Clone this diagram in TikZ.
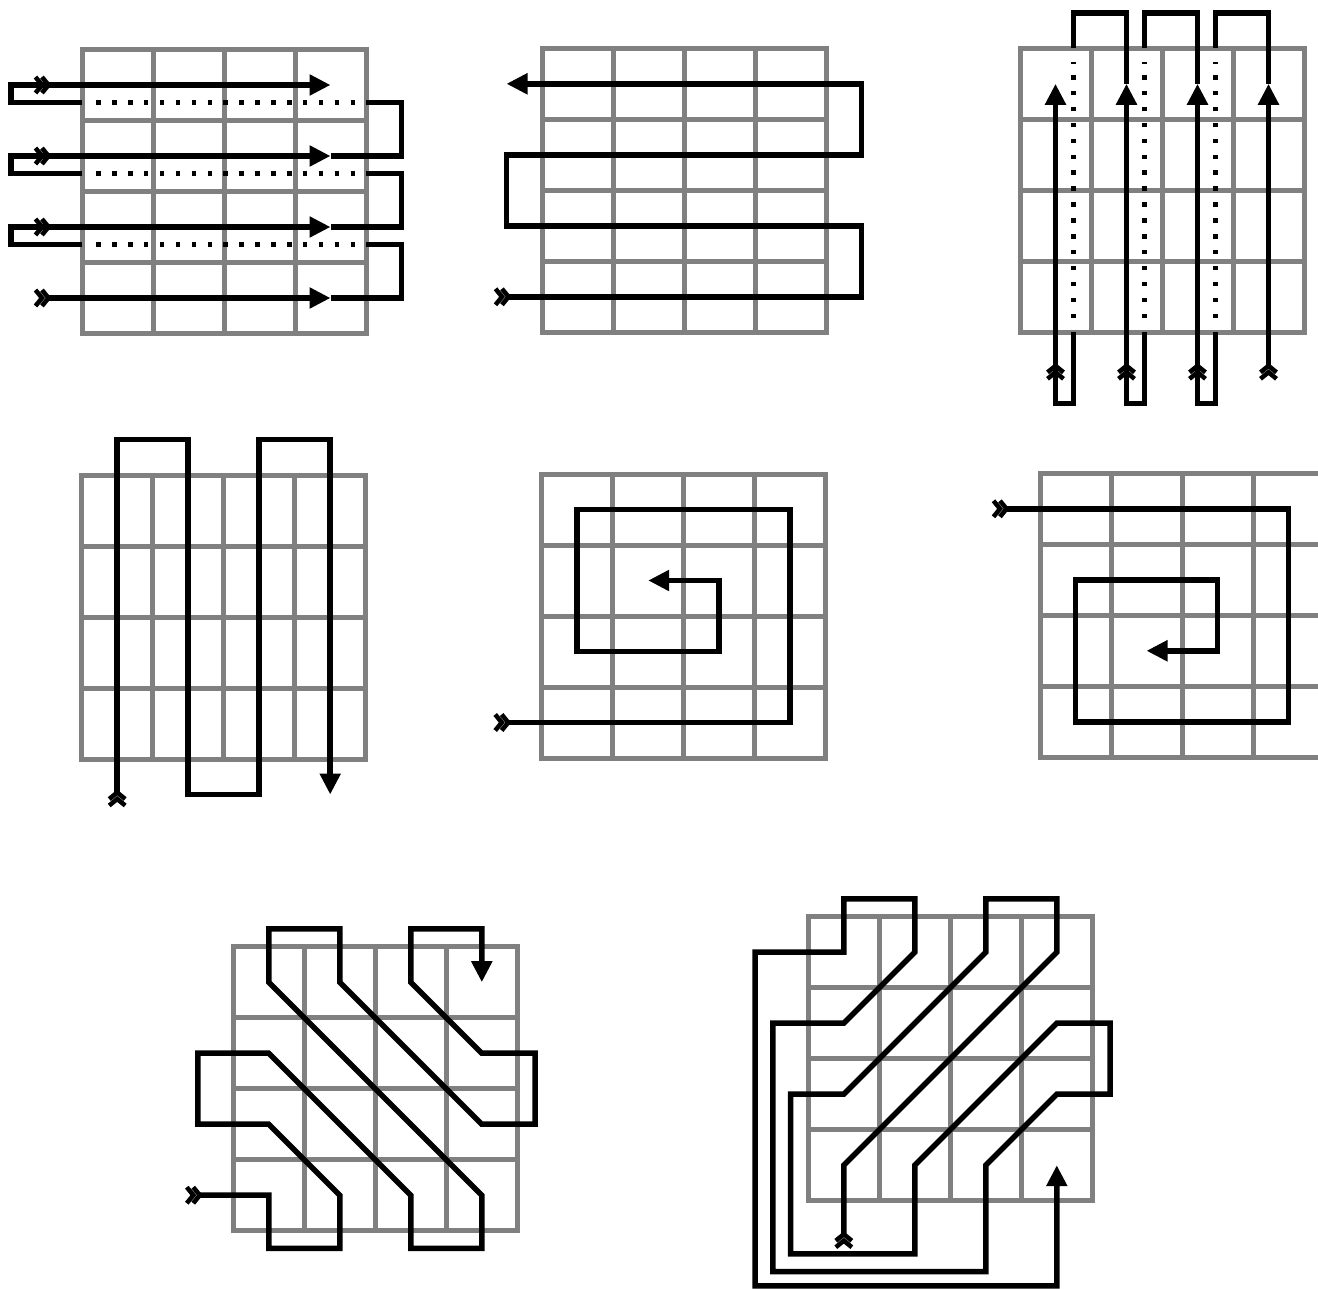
\documentclass[tikz,border=0pt]{standalone}
\usetikzlibrary{arrows.meta}
\definecolor{gridgray}{RGB}{128,128,128}
\tikzset{
  gridline/.style={draw=gridgray, line width=5pt},
  route/.style={draw=black, line width=5.5pt, line join=miter},
  dotroute/.style={draw=black, line width=4.5pt, dash pattern=on 4.5pt off 11.4pt},
  tip/.style={-{Triangle[length=21pt,width=20pt]}},
  tailmark/.pic={\draw[black, line width=4.5pt, line join=miter]
      (-11pt,8pt)--(-4.5pt,0pt)--(-11pt,-8pt)
      (-4.5pt,8pt)--(2pt,0pt)--(-4.5pt,-8pt);}
}
\newcommand\drawcellgrid{%
  \draw[gridline] (0,0) rectangle (4,4);
  \foreach \i in {1,2,3}{\draw[gridline] (\i,0) -- (\i,4); \draw[gridline] (0,\i) -- (4,\i);}
}
\begin{document}
\begin{tikzpicture}[x=1pt,y=-1pt]
\useasboundingbox (0,0) rectangle (1318,1289);
\fill[white] (0,0) rectangle (1318,1289);
\clip (0,0) rectangle (1318,1289);

% ---- Panel 1
\begin{scope}[shift={(82,49.5)},x=71pt,y=-71pt]
  \drawcellgrid
  \draw[route,tip] (0,0.75) -| (-1,0.5) -- (3.5,0.5);
  \draw[route] (4,0.75) -| (4.5,1.5) -- (3.5,1.5);
  \draw[route,tip] (0,1.75) -| (-1,1.5) -- (3.5,1.5);
  \draw[route] (4,1.75) -| (4.5,2.5) -- (3.5,2.5);
  \draw[route,tip] (0,2.75) -| (-1,2.5) -- (3.5,2.5);
  \draw[route] (4,2.75) -| (4.5,3.5) -- (3.5,3.5);
  \draw[route,tip] (-0.5,3.5) -- (3.5,3.5);
  \foreach \r in {0.75,1.75,2.75}{\draw[dotroute] (0.2,\r) -- (3.86,\r);}
  \foreach \r in {0.5,1.5,2.5,3.5}{\pic at (-0.5,\r) {tailmark};}
\end{scope}

% ---- Panel 2
\begin{scope}[shift={(542,48.3)},x=71pt,y=-71pt]
  \drawcellgrid
  \draw[route,tip] (-0.5,3.5) -- (4.5,3.5) |- (-0.5,2.5) |- (4.5,1.5) |- (-0.5,0.5);
  \pic at (-0.5,3.5) {tailmark};
\end{scope}

% ---- Panel 3
\begin{scope}[shift={(1020,48.3)},x=71pt,y=-71pt]
  \drawcellgrid
  \draw[route,tip] (0.75,4) |- (0.5,5) -- (0.5,0.5);
  \draw[route] (0.75,0) |- (1.5,-0.5) -- (1.5,0.5);
  \draw[route,tip] (1.75,4) |- (1.5,5) -- (1.5,0.5);
  \draw[route] (1.75,0) |- (2.5,-0.5) -- (2.5,0.5);
  \draw[route,tip] (2.75,4) |- (2.5,5) -- (2.5,0.5);
  \draw[route] (2.75,0) |- (3.5,-0.5) -- (3.5,0.5);
  \draw[route,tip] (3.5,4.5) -- (3.5,0.5);
  \foreach \c in {0.75,1.75,2.75}{\draw[dotroute] (\c,3.8) -- (\c,0.2);}
  \foreach \c in {0.5,1.5,2.5,3.5}{\pic[rotate=90] at (\c,4.5) {tailmark};}
\end{scope}

% ---- Panel 4
\begin{scope}[shift={(81.7,475)},x=71pt,y=-71pt]
  \drawcellgrid
  \draw[route,tip] (0.5,4.5) -- (0.5,-0.5) -| (1.5,4.5) -| (2.5,-0.5) -| (3.5,4.5);
  \pic[rotate=90] at (0.5,4.5) {tailmark};
\end{scope}

% ---- Panel 5
\begin{scope}[shift={(541.7,474)},x=71pt,y=-71pt]
  \drawcellgrid
  \draw[route,tip] (-0.5,3.5) -- (3.5,3.5) -- (3.5,0.5) -- (0.5,0.5) -- (0.5,2.5)
     -- (2.5,2.5) -- (2.5,1.5) -- (1.5,1.5);
  \pic at (-0.5,3.5) {tailmark};
\end{scope}

% ---- Panel 6
\begin{scope}[shift={(1040,473.3)},x=71pt,y=-71pt]
  \drawcellgrid
  \draw[route,tip] (-0.5,0.5) -- (3.5,0.5) -- (3.5,3.5) -- (0.5,3.5) -- (0.5,1.5)
     -- (2.5,1.5) -- (2.5,2.5) -- (1.5,2.5);
  \pic at (-0.5,0.5) {tailmark};
\end{scope}

% ---- Panel 7
\begin{scope}[shift={(233.3,946.7)},x=71pt,y=-71pt]
  \drawcellgrid
  \draw[route,tip] (-0.5,3.5) -- (0.5,3.5) -- (0.5,4.25) -- (1.5,4.25) -- (1.5,3.5)
     -- (0.5,2.5) -- (-0.5,2.5) -- (-0.5,1.5) -- (0.5,1.5) -- (2.5,3.5) -- (2.5,4.25)
     -- (3.5,4.25) -- (3.5,3.5) -- (0.5,0.5) -- (0.5,-0.25) -- (1.5,-0.25) -- (1.5,0.5)
     -- (3.5,2.5) -- (4.25,2.5) -- (4.25,1.5) -- (3.5,1.5) -- (2.5,0.5) -- (2.5,-0.25)
     -- (3.5,-0.25) -- (3.5,0.5);
  \pic at (-0.5,3.5) {tailmark};
\end{scope}

% ---- Panel 8
\begin{scope}[shift={(808.3,916.7)},x=71pt,y=-71pt]
  \drawcellgrid
  \draw[route,tip] (0.5,4.5) -- (0.5,3.5) -- (3.5,0.5) -- (3.5,-0.25) -- (2.5,-0.25)
     -- (2.5,0.5) -- (0.5,2.5) -- (-0.25,2.5) -- (-0.25,4.75) -- (1.5,4.75) -- (1.5,3.5)
     -- (3.5,1.5) -- (4.25,1.5) -- (4.25,2.5) -- (3.5,2.5) -- (2.5,3.5) -- (2.5,5)
     -- (-0.5,5) -- (-0.5,1.5) -- (0.5,1.5) -- (1.5,0.5) -- (1.5,-0.25) -- (0.5,-0.25)
     -- (0.5,0.5) -- (-0.75,0.5) -- (-0.75,5.2) -- (3.5,5.2) -- (3.5,3.5);
  \pic[rotate=90] at (0.5,4.5) {tailmark};
\end{scope}
\end{tikzpicture}
\end{document}
